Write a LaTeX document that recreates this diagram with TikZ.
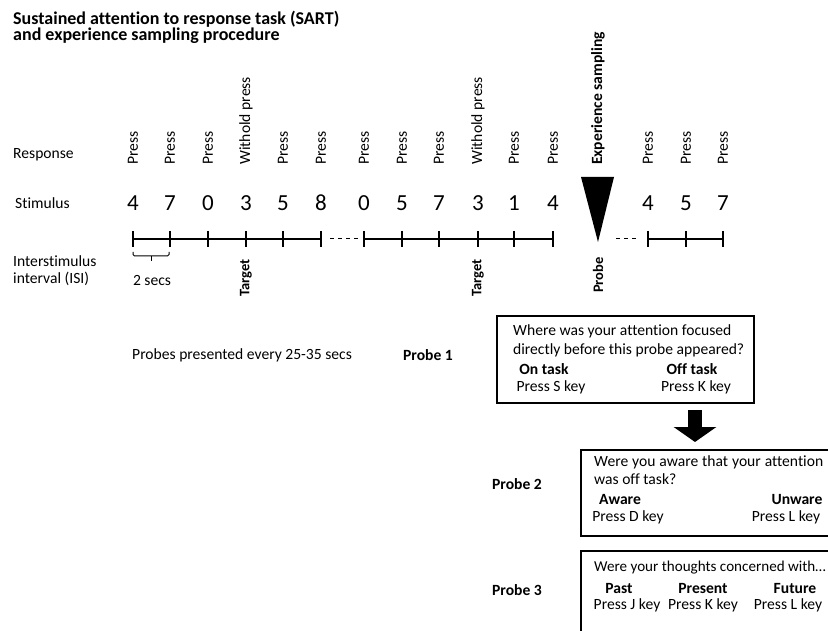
\documentclass[tikz,border=0pt]{standalone}
\usepackage{fontspec}
\setmainfont{Carlito}[Ligatures=NoCommon]
\usetikzlibrary{positioning, arrows.meta}

\tikzset{
  lbl/.style={font=\fontsize{15.6}{17}\selectfont, inner sep=0pt},
  bold lbl/.style={lbl, font=\bfseries\fontsize{15.6}{17}\selectfont},
  resp/.style={lbl, rotate=90, anchor=west},
  digit/.style={font=\fontsize{23}{26}\selectfont, inner sep=0pt},
  tag/.style={font=\bfseries\fontsize{14.5}{16}\selectfont, inner sep=0pt, rotate=90, anchor=east},
  probebox/.style={draw, line width=2pt, anchor=north west, inner sep=0pt},
  timeline/.style={line width=1.3pt},
  bigarrow/.style={line width=14pt, -{Triangle[length=15pt, width=42pt]}},
}

\begin{document}
\begin{tikzpicture}[x=1pt, y=-1pt]
  \clip (0,0) rectangle (828,631);

  % title
  \node[font=\bfseries\fontsize{18}{14.5}\selectfont, inner sep=0pt, anchor=base west, align=left]
    (title) at (13,41) {Sustained attention to response task (SART)\\and experience sampling procedure};

  % row labels
  \node[lbl, anchor=west] (response) at (13,155) {Response};
  \node[lbl, anchor=west] (stimulus) at (15,203) {Stimulus};
  \node[lbl, anchor=west, align=left] (isi) at (13,271) {Interstimulus\\interval (ISI)};

  % stimuli, responses and ticks
  \foreach \x/\d/\r [count=\i] in {133/4/Press, 170/7/Press, 208/0/Press, 246/3/Withold press,
      283/5/Press, 321/8/Press, 364/0/Press, 402/5/Press, 439/7/Press, 478/3/Withold press,
      514/1/Press, 553/4/Press, 648/4/Press, 686/5/Press, 723/7/Press}
  {
    \node[digit] (s\i) at (\x,203) {\d};
    \node[resp] (r\i) at (\x,165) {\r};
    \coordinate (t\i) at (\x,239);
    \draw[timeline] (\x,231) -- (\x,247);
  }
  \draw[timeline] (t1) -- (t6);
  \draw[timeline] (t7) -- (t12);
  \draw[timeline] (t13) -- (t15);
  \draw[line width=1pt, dash pattern=on 4pt off 4pt] ([xshift=9pt]t6) -- ([xshift=-6pt]t7);
  \draw[line width=1pt, dash pattern=on 4pt off 4pt] ([xshift=-32pt]t13) -- ([xshift=-11pt]t13);

  % experience sampling probe
  \node[resp, font=\bfseries\fontsize{15.6}{17}\selectfont] (es) at (598,165) {Experience sampling};
  \fill (581,177) -- (614,177) -- (598,242) -- cycle;

  % interval bracket
  \draw[line width=1pt, rounded corners=1.5pt] (133,252) -- (133,256) -- (169,256) -- (169,252);
  \draw[line width=1pt] (151,256) -- (151,261);
  \node[lbl] (secs) at (152,280) {2 secs};

  \node[tag] (target1) at (246,259) {Target};
  \node[tag] (target2) at (478,259) {Target};
  \node[tag] (probe) at (598,257) {Probe};

  % probes
  \node[lbl, anchor=west] (every) at (132,355) {Probes presented every 25-35 secs};
  \node[bold lbl] (p1) at (428,355) {Probe 1};
  \node[bold lbl] (p2) at (517,484) {Probe 2};
  \node[bold lbl] (p3) at (517,590) {Probe 3};

  \node[probebox, minimum width=257pt, minimum height=87pt] (b1) at (496,315) {};
  \node[lbl, anchor=west] at (513,331) {Where was your attention focused};
  \node[lbl, anchor=west] at (513,350) {directly before this probe appeared?};
  \node[bold lbl] at (544,369) {On task};
  \node[bold lbl] at (692,369) {Off task};
  \node[lbl] at (551,387) {Press S key};
  \node[lbl] at (696,387) {Press K key};

  \node[probebox, minimum width=262pt, minimum height=86pt] (b2) at (580,449) {};
  \node[lbl, anchor=west] at (594,462) {\hbox to 229pt{Were\hfill you\hfill aware\hfill that\hfill your\hfill attention}};
  \node[lbl, anchor=west] at (594,479) {was off task?};
  \node[bold lbl] at (620,499) {Aware};
  \node[bold lbl] at (797,499) {Unware};
  \node[lbl] at (628,517) {Press D key};
  \node[lbl] at (786,517) {Press L key};

  \node[probebox, minimum width=262pt, minimum height=100pt] (b3) at (580,550) {};
  \node[lbl, anchor=west, font=\fontsize{15.1}{17}\selectfont] at (594,568) {Were your thoughts concerned with…};
  \node[bold lbl] at (619,588) {Past};
  \node[bold lbl] at (703,588) {Present};
  \node[bold lbl] at (795,588) {Future};
  \node[lbl] at (627,605) {Press J key};
  \node[lbl] at (703,605) {Press K key};
  \node[lbl] at (788,605) {Press L key};

  \coordinate (ax) at (695,0);
  \draw[bigarrow, shorten <=6pt, shorten >=7pt] (ax |- b1.south) -- (ax |- b2.north);
\end{tikzpicture}
\end{document}
